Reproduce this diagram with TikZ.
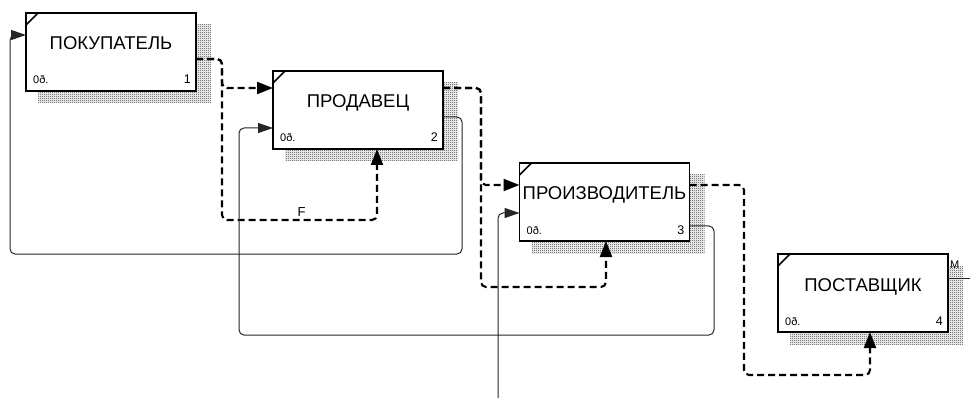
\documentclass[tikz,border=0pt]{standalone}
\usepackage{fontspec}
\setmainfont{Liberation Sans}
\usetikzlibrary{arrows.meta,calc,backgrounds,patterns}
\pgfdeclarepatternformonly{checkerfine}{\pgfpointorigin}{\pgfpoint{2pt}{2pt}}{\pgfpoint{2pt}{2pt}}{
  \pgfpathrectangle{\pgfpointorigin}{\pgfpoint{1pt}{1pt}}
  \pgfpathrectangle{\pgfpoint{1pt}{1pt}}{\pgfpoint{1pt}{1pt}}
  \pgfusepath{fill}
}
\begin{document}
\begin{tikzpicture}[x=1pt,y=-1pt,
  boxnode/.style={draw,line width=1.8pt,fill=white,minimum width=170pt,minimum height=78pt,inner sep=0pt,outer sep=0pt},
  shadowfill/.style={pattern=checkerfine,pattern color=black!80},
  title/.style={font=\fontsize{18.5}{20}\selectfont,anchor=base,inner sep=0pt},
  cornertag/.style={font=\fontsize{11}{12}\selectfont,anchor=base west,inner sep=0pt},
  numtag/.style={font=\fontsize{12.5}{13}\selectfont,anchor=base east,inner sep=0pt},
  arrowlabel/.style={font=\fontsize{13}{14}\selectfont,anchor=base,inner sep=0pt},
  dline/.style={line width=2.1pt,dash pattern=on 7pt off 4pt,rounded corners=5pt,-{Triangle[length=16pt,width=12pt]}},
  tline/.style={line width=1pt,draw=black!85,rounded corners=5pt,-{Triangle[length=15pt,width=10pt]}},
  plainline/.style={line width=1pt,draw=black!85}
]
\useasboundingbox (0,0) rectangle (970,401);

% boxes
\node[boxnode] (b1) at (111,52) {};
\node[boxnode] (b2) at (358,110) {};
\node[boxnode] (b3) at (604.5,202) {};
\node[boxnode] (b4) at (863,293) {};

% shadows
\begin{scope}[on background layer]
  \foreach \b in {b1,b2,b3,b4}{
    \fill[shadowfill] ($(\b.north west)+(12,12)$) rectangle ($(\b.south east)+(15,12)$);
  }
\end{scope}

% corner marks and texts
\foreach \b/\t/\n in {b1/ПОКУПАТЕЛЬ/1, b2/ПРОДАВЕЦ/2, b3/ПРОИЗВОДИТЕЛЬ/3, b4/ПОСТАВЩИК/4}{
  \draw[line width=1.5pt] ($(\b.north west)+(0,12)$) -- ($(\b.north west)+(12,0)$);
  \node[title] (\b-t) at ($(\b.center)+(0,-2)$) {\t};
  \node[cornertag] (\b-c) at ($(\b.south west)+(7,-7)$) {0ð.};
  \node[numtag] (\b-n) at ($(\b.south east)+(-5,-7)$) {\n};
}

% dashed connectors
\draw[dline] ($(b1.east)+(0,7)$) -- (222,59) -- (222,220) -- (377,220) -- ($(b2.south)+(19,0)$);
\draw[dline] ($(b1.east)+(0,7)$) -- (222,59) -- (222,88) -- ($(b2.west)+(0,-22)$);
\draw[dline] ($(b2.east)+(0,-22)$) -- (481,88) -- (481,287) -- (606,287) -- ($(b3.south)+(1.5,0)$);
\draw[dline] ($(b2.east)+(0,-22)$) -- (481,88) -- (481,185) -- ($(b3.west)+(0,-17)$);
\draw[dline] ($(b3.east)+(0,-17)$) -- (744,185) -- (744,375) -- (870,375) -- ($(b4.south)+(7,0)$);

% thin connectors
\draw[tline] ($(b2.east)+(0,7)$) -- (462,117) -- (462,254) -- (10,254) -- (10,35) -- ($(b1.west)+(0,-17)$);
\draw[tline] ($(b3.east)+(0,24)$) -- (714,226) -- (714,335) -- (239,335) -- (239,128) -- ($(b2.west)+(0,18)$);
\coordinate (src) at (498,398);
\draw[tline] (src) -- (498,213) -- ($(b3.west)+(0,11)$);
\coordinate (out4) at (970,278);
\draw[plainline] ($(b4.east)+(0,-15)$) -- (out4);

% labels
\node[arrowlabel] (lf) at (301.5,217) {F};
\node[cornertag] (lm) at (950,268) {M};
\end{tikzpicture}
\end{document}
